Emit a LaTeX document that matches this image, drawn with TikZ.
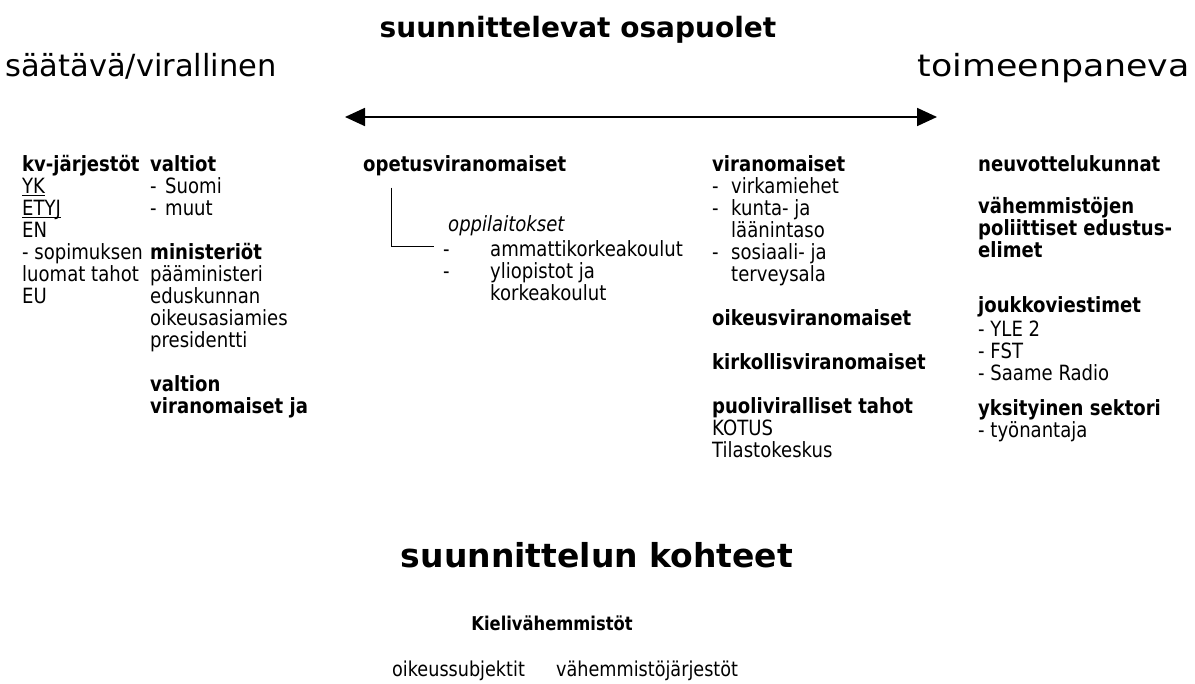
\documentclass[tikz,border=0pt]{standalone}
\usepackage{fontspec}
\setmainfont{DejaVu Sans}
\newfontfamily\bodyfont[FakeStretch=0.86]{DejaVu Sans}
\newfontfamily\widefont[FakeStretch=1.14]{DejaVu Sans}
\newcommand{\ulined}[1]{\underline{\smash{#1}}}
\usetikzlibrary{arrows.meta}

\begin{document}
\begin{tikzpicture}[x=1pt,y=-1pt,
    bigtitle/.style={inner sep=0pt,anchor=base,font=\fontsize{28}{32}\selectfont\bfseries},
    sidelabel/.style={inner sep=0pt,font=\fontsize{30.5}{34}\selectfont},
    column/.style={inner sep=0pt,anchor=north west,align=left,font=\bodyfont\fontsize{21}{22}\selectfont},
    target/.style={inner sep=0pt,anchor=base west,font=\bodyfont\fontsize{20.5}{22}\selectfont}]
\useasboundingbox (0,0) rectangle (1195,684);

    % Top: planning parties
    \node[bigtitle] (osapuolet) at (578,38) {suunnittelevat osapuolet};
    \node[sidelabel,anchor=base west] (saatava) at (5,77) {säätävä/virallinen};
    \node[sidelabel,anchor=base east,font=\widefont\fontsize{30.5}{34}\selectfont] (toimeen) at (1190,77) {toimeenpaneva};
    \coordinate (vasen) at (345,117);
    \coordinate (oikea) at (937,117);
    \draw[{Triangle[length=20pt,width=18pt]}-{Triangle[length=20pt,width=18pt]}, line width=1.8pt] (vasen) -- (oikea);

    % Column 1
    \node[column] (kv) at (22,155) {\textbf{kv-järjestöt}\\ \ulined{YK}\\ \ulined{ETYJ}\\ EN\\ - sopimuksen\\ luomat tahot\\ EU};

    % Column 2
    \node[column] (valtiot) at (150,155) {\textbf{valtiot}\\ \makebox[15pt][l]{-}Suomi\\ \makebox[15pt][l]{-}muut\\[22pt]
        \textbf{ministeriöt}\\ pääministeri\\ eduskunnan\\ oikeusasiamies\\ presidentti\\[22pt]
        \textbf{valtion}\\ \textbf{viranomaiset ja}};

    % Column 3
    \node[column] (opetus) at (363,155) {\textbf{opetusviranomaiset}};
    \node[column] (oppi) at (448,215) {\textit{oppilaitokset}};
    \node[column] (koulut) at (443,240) {\makebox[47pt][l]{-}ammattikorkeakoulut\\ \makebox[47pt][l]{-}yliopistot ja\\ \hspace*{47pt}korkeakoulut};
    \draw[thin] ([xshift=28pt,yshift=-12pt]opetus.south west) |- ([xshift=-9pt,yshift=-6pt]koulut.north west);

    % Column 4
    \node[column] (viran) at (712,155) {\textbf{viranomaiset}\\ \makebox[19pt][l]{-}virkamiehet\\ \makebox[19pt][l]{-}kunta- ja\\ \hspace*{19pt}läänintaso\\
        \makebox[19pt][l]{-}sosiaali- ja\\ \hspace*{19pt}terveysala\\[22pt]
        \textbf{oikeusviranomaiset}\\[22pt]
        \textbf{kirkollisviranomaiset}\\[22pt]
        \textbf{puoliviralliset tahot}\\ KOTUS\\ Tilastokeskus};

    % Column 5
    \node[column] (neuvot) at (978,155) {\textbf{neuvottelukunnat}\\[20pt]
        \textbf{vähemmistöjen}\\ \textbf{poliittiset edustus-}\\ \textbf{elimet}\\[33pt]
        \textbf{joukkoviestimet}\\[2pt] - YLE 2\\ - FST\\ - Saame Radio\\[13pt]
        \textbf{yksityinen sektori}\\ - työnantaja};

    % Bottom: planning targets
    \node[bigtitle,font=\fontsize{33}{36}\selectfont\bfseries] (kohteet) at (597,567) {suunnittelun kohteet};
    \node[inner sep=0pt,anchor=base,font=\bodyfont\fontsize{19}{22}\selectfont\bfseries] (kieli) at (552,630) {Kielivähemmistöt};
    \node[target] (subj) at (392,676) {oikeussubjektit};
    \node[target] (jarj) at (556,676) {vähemmistöjärjestöt};

\end{tikzpicture}
\end{document}
